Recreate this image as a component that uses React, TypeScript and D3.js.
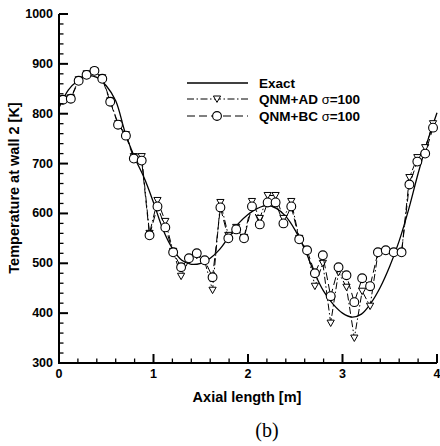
import React from "react";
import * as d3 from "d3";

// Axial positions of the computed points (cell centres)
const xPts = [
  0.042, 0.125, 0.208, 0.292, 0.375, 0.458, 0.542, 0.625, 0.708, 0.792, 0.875, 0.958,
  1.042, 1.125, 1.208, 1.292, 1.375, 1.458, 1.542, 1.625, 1.708, 1.792, 1.875, 1.958,
  2.042, 2.125, 2.208, 2.292, 2.375, 2.458, 2.542, 2.625, 2.708, 2.792, 2.875, 2.958,
  3.042, 3.125, 3.208, 3.292, 3.375, 3.458, 3.542, 3.625, 3.708, 3.792, 3.875, 3.958,
];

const bcValues = [
  828, 830, 866, 878, 886, 870, 824, 778, 756, 710, 706, 556,
  614, 572, 522, 492, 510, 520, 506, 472, 612, 550, 568, 550,
  614, 578, 622, 622, 580, 614, 548, 526, 480, 516, 434, 492,
  476, 422, 470, 454, 522, 526, 522, 522, 658, 704, 720, 772,
];

const adValues = [
  830, 832, 868, 880, 886, 872, 826, 780, 758, 714, 714, 560,
  626, 584, 524, 474, 506, 516, 504, 446, 622, 556, 572, 552,
  624, 590, 636, 636, 590, 624, 550, 526, 454, 500, 380, 482,
  452, 350, 444, 414, 520, 524, 522, 522, 672, 712, 732, 780,
];

const exactX = [
  0, 0.1, 0.2, 0.3, 0.4, 0.5, 0.6, 0.7, 0.8, 0.9, 1.0, 1.1, 1.2, 1.3, 1.4, 1.5, 1.6, 1.7, 1.8, 1.9, 2.0,
  2.1, 2.2, 2.3, 2.4, 2.5, 2.6, 2.7, 2.8, 2.9, 3.0, 3.1, 3.2, 3.3, 3.4, 3.5, 3.6, 3.7, 3.8, 3.9, 4.0,
];
const exactT = [
  812, 848, 866, 876, 873, 856, 826, 762, 712, 672, 622, 568, 530, 506, 498, 500, 510, 528, 554, 580, 598,
  610, 616, 610, 594, 566, 528, 482, 444, 418, 400, 392, 398, 420, 452, 494, 545, 608, 680, 745, 802,
];

const xTicks = [0, 1, 2, 3, 4];
const yTicks = [300, 400, 500, 600, 700, 800, 900, 1000];
const legendLabels = ["Exact", "QNM+AD", "QNM+BC"];
const legendSigma = "σ";
const legendValue = "=100";

export default function App() {
  const x = d3.scaleLinear().domain([0, 4]).range([59, 437]);
  const y = d3.scaleLinear().domain([300, 1000]).range([363, 14]);

  const exactLine = d3
    .line<number>()
    .x((d, i) => x(exactX[i]))
    .y((d) => y(d))
    .curve(d3.curveCatmullRom.alpha(0.5));
  const ptLine = d3
    .line<number>()
    .x((d, i) => x(xPts[i]))
    .y((d) => y(d));

  const minorX = d3.range(0, 4.0001, 0.2).filter((v) => Math.abs(v - Math.round(v)) > 1e-6);
  const minorY = d3.range(300, 1000.1, 20).filter((v) => v % 100 !== 0);

  const tri = (cx: number, cy: number) =>
    `M${cx - 3.6},${cy - 3} L${cx + 3.6},${cy - 3} L${cx},${cy + 3.4} Z`;

  const font = "'Liberation Sans', Arial, Helvetica, sans-serif";
  const adDash = "7,2.5,1.5,2.5";
  const bcDash = "8,4";
  const legendY = [83, 99, 116];

  return (
    <svg
      width={440}
      height={446}
      style={{ position: "absolute", left: 0, top: 0, background: "#fff" }}
      fontFamily={font}
    >
      <rect x={0} y={0} width={440} height={446} fill="#fff" />
      {/* exact */}
      <path d={exactLine(exactT) || ""} fill="none" stroke="#000" strokeWidth={1.3} />
      {/* AD */}
      <path d={ptLine(adValues) || ""} fill="none" stroke="#000" strokeWidth={1} strokeDasharray={adDash} />
      {adValues.map((v, i) => (
        <path key={"t" + i} d={tri(x(xPts[i]), y(v))} fill="#fff" stroke="#000" strokeWidth={1} />
      ))}
      {/* BC */}
      <path d={ptLine(bcValues) || ""} fill="none" stroke="#000" strokeWidth={1} strokeDasharray={bcDash} />
      {bcValues.map((v, i) => (
        <circle key={"c" + i} cx={x(xPts[i])} cy={y(v)} r={4.4} fill="#fff" stroke="#000" strokeWidth={1.1} />
      ))}

      {/* axes */}
      <line x1={59} x2={59} y1={y(1000)} y2={y(300)} stroke="#000" strokeWidth={2} />
      <line x1={58} x2={437} y1={363} y2={363} stroke="#000" strokeWidth={2} />
      {yTicks.map((t) => (
        <g key={"yt" + t}>
          <line x1={59} x2={68} y1={y(t)} y2={y(t)} stroke="#000" strokeWidth={2} />
          <text x={53} y={y(t)} textAnchor="end" dominantBaseline="central" fontSize={12.5} fontWeight="bold">
            {t}
          </text>
        </g>
      ))}
      {minorY.map((t) => (
        <line key={"ym" + t} x1={59} x2={63.5} y1={y(t)} y2={y(t)} stroke="#000" strokeWidth={1.3} />
      ))}
      {xTicks.map((t) => (
        <g key={"xt" + t}>
          <line x1={x(t)} x2={x(t)} y1={363} y2={354} stroke="#000" strokeWidth={2} />
          <text x={x(t)} y={378} textAnchor="middle" fontSize={12.5} fontWeight="bold">
            {t}
          </text>
        </g>
      ))}
      {minorX.map((t) => (
        <line key={"xm" + t} x1={x(t)} x2={x(t)} y1={363} y2={358.5} stroke="#000" strokeWidth={1.3} />
      ))}

      {/* axis titles */}
      <text x={247} y={402} textAnchor="middle" fontSize={14.5} fontWeight="bold">
        Axial length [m]
      </text>
      <text transform={`translate(19,188) rotate(-90)`} textAnchor="middle" fontSize={14.5} fontWeight="bold">
        Temperature at wall 2 [K]
      </text>

      {/* legend */}
      <line x1={187} x2={248} y1={83} y2={83} stroke="#000" strokeWidth={1.3} />
      <line x1={187} x2={248} y1={99} y2={99} stroke="#000" strokeWidth={1} strokeDasharray={adDash} />
      <path d={tri(217, 99)} fill="#fff" stroke="#000" strokeWidth={1} />
      <line x1={187} x2={248} y1={116} y2={116} stroke="#000" strokeWidth={1} strokeDasharray={bcDash} />
      <circle cx={217} cy={116} r={4.4} fill="#fff" stroke="#000" strokeWidth={1.1} />
      {legendLabels.map((l, i) => (
        <text key={l} x={259} y={legendY[i]} dominantBaseline="central" fontSize={13.5} fontWeight="bold">
          {l}
          {i > 0 ? (
            <tspan>
              {" "}
              <tspan fontWeight="normal" fontSize={13}>
                {legendSigma}
              </tspan>
              {legendValue}
            </tspan>
          ) : null}
        </text>
      ))}

      <text x={267} y={437} textAnchor="middle" fontSize={20} fontFamily="'Liberation Serif', 'Times New Roman', serif">
        (b)
      </text>
    </svg>
  );
}
